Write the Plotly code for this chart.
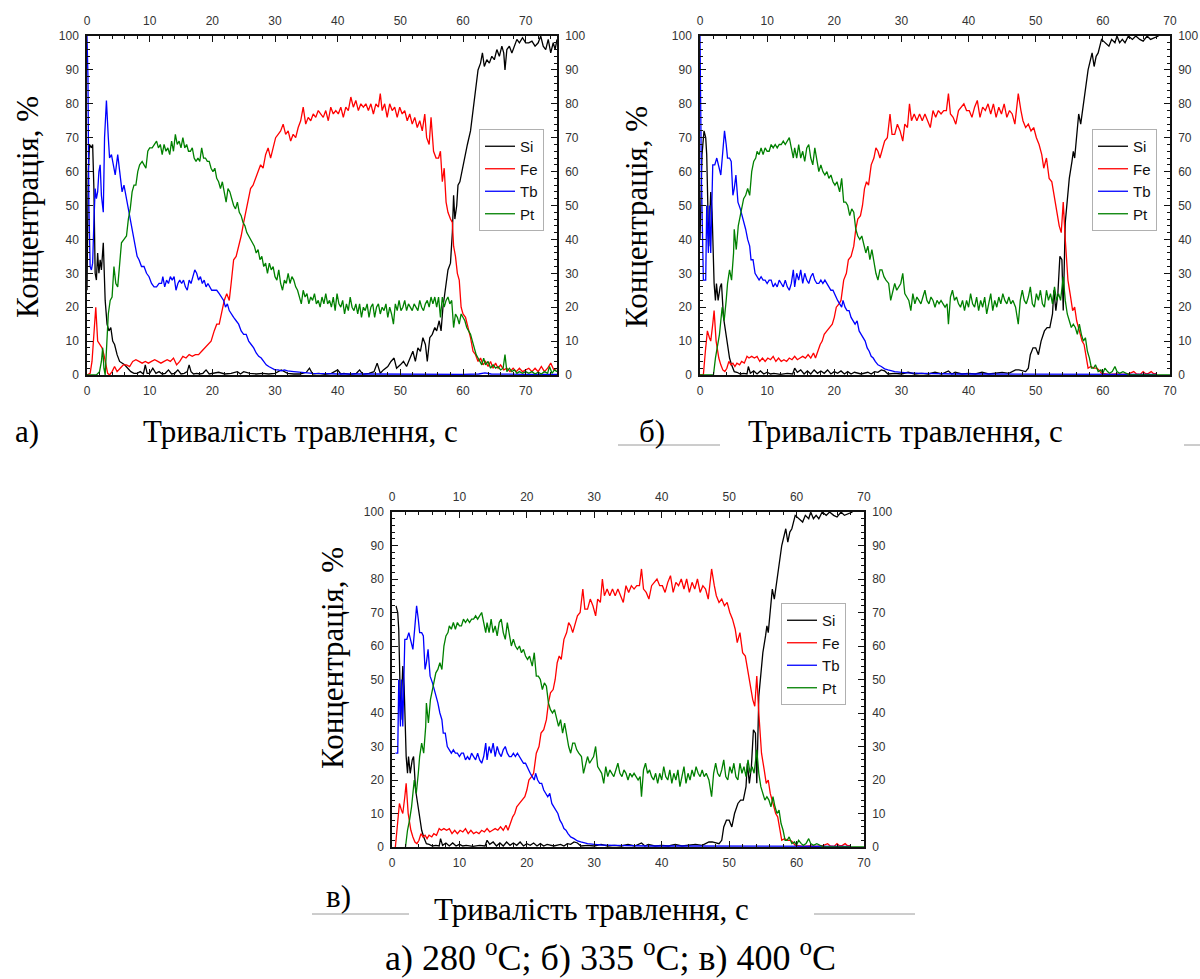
import plotly.graph_objects as go

# ---------------- panel a (280 C): time, s / concentration, % ----------------
a_si_t = [0, 0.2, 0.4, 0.7, 0.9, 1.1, 1.3, 1.5, 1.7, 1.9, 2.1, 2.3, 2.6, 2.9, 3.2, 3.5, 3.8, 4.1, 4.4, 4.8,
          5.2, 5.6, 6.0, 6.5, 7.0, 7.5, 8.0, 8.5, 9.0, 9.3, 9.6, 10.0, 10.5, 11.0, 11.5, 12.0, 12.5, 13.0, 13.5, 14.0,
          14.5, 15.0, 15.5, 16.0, 16.3, 16.6, 17.0, 17.5, 18.0, 18.5, 19.0, 19.5, 20.0, 21.0, 22.0, 23.0, 24.0, 24.5, 25.0, 26.0,
          27.0, 28.0, 29.0, 30.0, 31.0, 32.0, 33.0, 34.0, 35.0, 35.5, 36.0, 37.0, 38.0, 39.0, 40.0, 40.5, 41.0, 42.0, 43.0, 43.5,
          44.0, 45.0, 45.8, 46.3, 46.8, 47.3, 48.0, 48.5, 49.0, 49.4, 50.0, 50.5, 51.0, 51.5, 52.0, 52.4, 52.8, 53.2, 53.6, 54.0,
          54.3, 54.7, 55.1, 55.5, 55.8, 56.2, 56.5, 56.8, 57.2, 57.6, 58.0, 58.3, 58.5, 58.7, 59.0, 59.2, 59.5, 59.8, 60.2, 60.7,
          61.2, 61.6, 62.0, 62.4, 62.8, 63.1, 63.4, 63.8, 64.2, 64.6, 65.0, 65.4, 65.8, 66.2, 66.5, 66.7, 67.0, 67.4, 67.8, 68.2,
          68.6, 69.0, 69.5, 70.0, 70.5, 71.0, 71.5, 72.0, 72.4, 72.8, 73.2, 73.6, 74.0, 74.4, 74.7, 75.0]
a_si = [25, 60, 68, 67, 68, 55, 30, 28, 36, 30, 34, 31, 39, 22, 15, 13, 14, 10, 9, 6,
        4, 3.5, 3, 2, 1, 0.5, 0.5, 1, 0.3, 3, 0.5, 0.5, 2, 0.5, 1, 0.3, 0.5, 1.5, 0.3, 0.5,
        1.5, 0.3, 0.5, 1, 3, 1, 0.3, 0.5, 0.3, 0.5, 1.5, 0.3, 0.5, 0.8, 0.3, 0.5, 1, 0.3, 1, 0.5,
        0.3, 0.5, 0.3, 0.5, 1.5, 0.5, 0.3, 0.3, 0.8, 2, 0.3, 0.5, 0.2, 0.5, 1.5, 0.3, 0.5, 0.2, 0.5, 1.5,
        0.2, 0.5, 1, 3.5, 0.5, 1.5, 2.5, 4, 5, 2, 3, 4, 2.5, 5, 7, 4, 8, 7, 11, 9,
        4, 11, 12, 14, 13, 16, 13, 20, 25, 31, 33, 42, 53, 46, 50, 56, 57, 60, 64, 68,
        72, 78, 84, 90, 92, 95, 91, 93, 92, 94, 93, 96, 94, 97, 95, 90, 96, 97, 95, 97,
        99, 98, 99.5, 98, 98, 98.5, 97, 98, 100, 97, 96, 99, 95, 98, 96, 99]

a_fe_t = [0, 0.5, 0.8, 1.1, 1.4, 1.7, 2.0, 2.4, 2.7, 3.0, 3.3, 3.6, 4.0, 4.4, 4.8, 5.3, 5.8, 6.3, 6.8, 7.3,
          7.8, 8.3, 8.8, 9.3, 9.8, 10.3, 10.8, 11.3, 11.8, 12.3, 12.8, 13.3, 13.8, 14.3, 14.8, 15.3, 15.8, 16.3, 16.8, 17.3,
          17.8, 18.3, 18.8, 19.3, 19.8, 20.3, 20.7, 21.1, 21.5, 21.9, 22.3, 22.7, 23.0, 23.4, 23.8, 24.2, 24.6, 25.0, 25.3, 25.7,
          26.1, 26.5, 26.9, 27.3, 27.7, 28.1, 28.5, 28.9, 29.3, 29.7, 30.1, 30.5, 30.9, 31.3, 31.7, 32.1, 32.5, 32.9, 33.3, 33.7,
          34.1, 34.5, 34.9, 35.3, 35.7, 36.1, 36.5, 36.9, 37.3, 37.7, 38.1, 38.5, 38.9, 39.3, 39.7, 40.1, 40.5, 40.9, 41.3, 41.7,
          42.1, 42.5, 42.9, 43.3, 43.7, 44.1, 44.5, 44.9, 45.3, 45.7, 46.1, 46.5, 46.8, 47.1, 47.5, 47.9, 48.3, 48.7, 49.1, 49.5,
          49.9, 50.3, 50.7, 51.1, 51.5, 51.9, 52.3, 52.7, 53.1, 53.5, 53.9, 54.2, 54.6, 54.9, 55.3, 55.7, 56.1, 56.4, 56.7, 57.0,
          57.3, 57.6, 58.0, 58.3, 58.5, 58.8, 59.1, 59.4, 59.7, 60.0, 60.4, 60.8, 61.2, 61.6, 62.0, 62.4, 62.8, 63.2, 63.6, 64.0,
          64.4, 64.8, 65.2, 65.6, 66.0, 66.5, 67.0, 67.5, 68.0, 68.5, 69.0, 69.5, 70.0, 70.5, 71.0, 71.5, 72.0, 72.5, 73.0, 73.5,
          74.0, 74.5, 75.0]
a_fe = [0, 0.5, 4, 12, 20, 10, 9, 8, 6, 3, 0.5, 0, 1, 2.5, 1, 2, 3, 3, 2.5, 4,
        4.5, 4, 3.5, 4, 3.5, 4, 4.5, 4, 3.5, 4, 4.5, 4, 5, 3, 4, 5.5, 5, 6, 5.5, 6,
        6, 7, 8, 9, 10, 13, 15, 15, 19, 22, 24, 22, 27, 34, 35, 38, 41, 45, 48, 52,
        55, 56, 58, 60, 62, 61, 65, 67, 64, 67, 70, 71, 72, 74, 71, 72, 69, 71, 70, 73,
        75, 79, 74, 76, 75, 77, 76, 78, 77, 76, 78, 75, 79, 77, 78, 77, 79, 76, 79, 78,
        82, 79, 81, 78, 80, 79, 80, 78, 80, 77, 80, 79, 83, 78, 80, 76, 80, 78, 79, 76,
        79, 77, 78, 75, 77, 74, 76, 73, 75, 72, 77, 70, 68, 76, 66, 64, 64, 66, 57, 61,
        51, 48, 46, 45, 38, 35, 30, 28, 20, 18, 17, 14, 11, 7, 6, 4, 5, 3, 4, 2.5,
        4, 2, 3.5, 2, 3, 1.5, 2, 1, 2, 1, 2, 1, 1.5, 2, 1, 2, 1, 2.5, 1, 2,
        3.5, 1.5, 2]

a_tb_t = [0, 0.15, 0.3, 0.5, 0.7, 0.9, 1.1, 1.3, 1.5, 1.7, 1.9, 2.1, 2.3, 2.6, 2.8, 3.1, 3.4, 3.6, 3.9, 4.2,
          4.5, 4.9, 5.3, 5.6, 5.9, 6.2, 6.5, 6.8, 7.1, 7.4, 7.7, 8.0, 8.3, 8.7, 9.1, 9.5, 9.9, 10.3, 10.7, 11.1,
          11.5, 11.9, 12.1, 12.4, 12.7, 13.0, 13.3, 13.6, 13.9, 14.2, 14.5, 14.8, 15.1, 15.4, 15.7, 16.0, 16.3, 16.6, 16.9, 17.2,
          17.5, 17.8, 18.1, 18.4, 18.7, 19.0, 19.3, 19.6, 19.9, 20.3, 20.7, 21.1, 21.5, 21.8, 22.1, 22.4, 22.7, 23.0, 23.4, 23.8,
          24.2, 24.6, 25.0, 25.4, 25.8, 26.2, 26.6, 27.0, 27.4, 27.8, 28.2, 28.6, 29.0, 29.5, 30.0, 30.5, 31.0, 31.5, 32.0, 33.0,
          34.0, 35.0, 36.0, 38.0, 40.0, 45.0, 50.0, 55.0, 60.0, 62.5, 63.5, 64.5, 67.0, 70.0, 75.0]
a_tb = [100, 88, 50, 32, 31, 33, 45, 55, 52, 54, 60, 62, 53, 48, 70, 81, 70, 64, 65, 62,
        59, 65, 59, 54, 56, 53, 50, 46, 43, 40, 38, 35, 34, 32, 32, 30, 29, 27, 26, 26,
        27, 27, 29, 26, 28, 27, 29, 28, 29, 25, 27, 28, 27, 28, 26, 25, 28, 27, 29, 31,
        30, 28, 29, 27, 28, 26, 27, 26, 25, 25, 25, 24, 23, 22, 20, 21, 19, 18, 17, 16,
        15, 13, 12, 12, 10, 9, 8, 6.5, 5.5, 5, 4, 3, 2.5, 2, 1.5, 1.5, 1.2, 1.5, 1.2, 1.0,
        0.8, 0.7, 0.5, 0.4, 0.3, 0.3, 0.2, 0.2, 0.2, 0.3, 0.6, 0.3, 0.2, 0.2, 0.2]

a_pt_t = [0, 1.5, 2.0, 2.3, 2.5, 2.7, 2.9, 3.1, 3.4, 3.7, 4.0, 4.3, 4.6, 4.9, 5.2, 5.5, 5.9, 6.3, 6.6, 6.9,
          7.2, 7.5, 7.8, 8.1, 8.4, 8.8, 9.1, 9.4, 9.7, 10.0, 10.4, 10.8, 11.1, 11.4, 11.7, 12.0, 12.3, 12.6, 12.9, 13.2,
          13.5, 13.8, 14.1, 14.4, 14.7, 15.0, 15.3, 15.6, 15.9, 16.2, 16.5, 16.8, 17.1, 17.4, 17.7, 18.0, 18.3, 18.6, 18.9, 19.2,
          19.5, 19.8, 20.1, 20.4, 20.7, 21.0, 21.3, 21.6, 21.9, 22.2, 22.5, 22.8, 23.1, 23.4, 23.7, 24.0, 24.3, 24.6, 24.9, 25.2,
          25.5, 25.8, 26.1, 26.4, 26.7, 27.0, 27.3, 27.6, 27.9, 28.2, 28.5, 28.8, 29.1, 29.4, 29.7, 30.0, 30.3, 30.6, 30.9, 31.2,
          31.5, 31.8, 32.1, 32.4, 32.7, 33.0, 33.3, 33.6, 33.9, 34.2, 34.5, 34.8, 35.1, 35.4, 35.7, 36.0, 36.3, 36.6, 36.9, 37.2,
          37.5, 37.8, 38.1, 38.4, 38.7, 39.0, 39.3, 39.6, 39.9, 40.2, 40.5, 40.8, 41.1, 41.4, 41.7, 42.0, 42.3, 42.6, 42.9, 43.2,
          43.5, 43.8, 44.1, 44.4, 44.7, 45.0, 45.3, 45.6, 45.9, 46.2, 46.5, 46.8, 47.1, 47.4, 47.7, 48.0, 48.3, 48.6, 48.9, 49.2,
          49.5, 49.8, 50.1, 50.4, 50.7, 51.0, 51.3, 51.6, 51.9, 52.2, 52.5, 52.8, 53.1, 53.4, 53.7, 54.0, 54.3, 54.6, 54.9, 55.2,
          55.5, 55.8, 56.1, 56.4, 56.7, 57.0, 57.3, 57.6, 57.9, 58.2, 58.5, 58.8, 59.1, 59.4, 59.7, 60.0, 60.3, 60.6, 60.9, 61.2,
          61.5, 61.8, 62.1, 62.4, 62.7, 63.0, 63.3, 63.6, 64.0, 64.4, 64.8, 65.2, 65.6, 66.0, 66.4, 66.7, 67.0, 67.4, 67.8, 68.2,
          68.6, 69.0, 69.5, 70.0, 70.5, 71.0, 71.5, 72.0, 72.5, 73.0, 73.5, 73.8, 74.2, 74.6, 75.0]
a_pt = [0, 0, 1, 4, 8, 2, 0, 8, 18, 22, 23, 32, 27, 26, 34, 39, 40, 41, 46, 49,
        54, 56, 56, 60, 62, 63, 62, 61, 66, 67, 67, 68, 69, 67, 68, 65, 68, 66, 67, 65,
        69, 66, 71, 68, 69, 67, 70, 67, 68, 66, 66, 67, 64, 63, 64, 63, 67, 64, 64, 63,
        63, 61, 60, 61, 58, 57, 55, 57, 54, 51, 55, 54, 52, 50, 49, 51, 48, 47, 45, 44,
        42, 41, 40, 39, 38, 36, 37, 34, 35, 32, 33, 30, 33, 31, 32, 29, 28, 31, 27, 25,
        28, 27, 30, 27, 29, 28, 26, 25, 23, 21, 25, 23, 24, 21, 23, 22, 24, 21, 22, 20,
        23, 21, 24, 21, 22, 20, 23, 19, 24, 21, 20, 22, 18, 21, 19, 23, 20, 19, 21, 18,
        21, 17, 20, 19, 21, 17, 20, 21, 17, 20, 21, 18, 20, 19, 21, 17, 20, 18, 15, 21,
        19, 22, 19, 20, 22, 19, 21, 20, 19, 21, 20, 19, 22, 20, 19, 21, 22, 20, 23, 21,
        23, 20, 23, 17, 23, 20, 22, 23, 21, 22, 14, 18, 17, 15, 18, 17, 16, 14, 13, 12,
        10, 8, 6, 5, 4, 3, 5, 3, 4, 2, 3, 2, 2.5, 1.5, 2, 6, 1, 2, 1, 1.5,
        0.5, 1, 0.5, 1, 0.5, 1, 0.3, 0.8, 0.3, 1, 0.5, 2.5, 0.5, 1.5, 1]

# ---------------- panel b (335 C) ----------------
b_si_t = [0, 0.3, 0.6, 0.85, 1.0, 1.3, 1.6, 1.8, 2.1, 2.3, 2.45, 2.7, 3.0, 3.2, 3.5, 3.8, 4.0, 4.4, 4.7, 5.1,
          5.5, 6.0, 6.5, 7.0, 7.2, 7.5, 8.0, 8.5, 9.0, 9.5, 10.0, 10.5, 11.0, 12.0, 13.0, 13.8, 14.1, 14.5, 15.0, 15.5,
          16.0, 16.5, 17.0, 17.5, 18.0, 18.5, 19.0, 19.5, 20.0, 20.5, 21.0, 21.5, 22.0, 22.5, 23.0, 24.0, 25.0, 25.5, 26.0, 26.5,
          27.0, 27.5, 28.0, 29.0, 30.0, 31.0, 32.0, 33.0, 34.0, 35.0, 36.0, 37.0, 37.5, 38.0, 39.0, 40.0, 41.0, 42.0, 43.0, 44.0,
          45.0, 46.0, 46.5, 47.0, 47.5, 48.0, 48.5, 48.9, 49.2, 49.6, 50.0, 50.4, 50.8, 51.3, 51.7, 52.1, 52.5, 52.7, 53.0, 53.3,
          53.6, 53.9, 54.1, 54.4, 55.0, 55.4, 55.6, 55.8, 56.1, 56.4, 56.7, 57.3, 57.8, 58.4, 58.7, 59.0, 59.3, 59.8, 60.3, 60.9,
          61.3, 61.8, 62.1, 62.5, 62.9, 63.3, 63.8, 64.4, 64.9, 65.5, 66.0, 66.6, 67.1, 67.7, 68.3]
b_si = [40, 65, 72, 70, 65, 38, 54, 48, 27, 22, 27, 22, 26, 27, 17, 13, 11, 5, 3, 1,
        0.8, 0.3, 0.5, 0.3, 2.5, 0.5, 1.2, 0.3, 1.2, 0.3, 0.8, 0.3, 0.5, 0.2, 0.5, 0.3, 2, 0.8, 1.5, 0.3,
        1.2, 0.3, 1.5, 0.5, 1.2, 0.5, 1.5, 0.3, 1, 0.5, 1.2, 0.3, 1, 0.3, 0.8, 0.3, 0.8, 0.3, 1, 0.8,
        1.5, 1.2, 0.3, 0.5, 0.3, 0.8, 0.3, 0.5, 0.3, 0.8, 0.3, 1.2, 0.3, 0.8, 0.3, 0.5, 0.3, 0.8, 0.3, 0.5,
        0.8, 0.5, 1, 1.5, 1.5, 1.2, 1.0, 2, 6, 8, 8, 6, 10, 13, 14, 14, 18, 25, 19, 24,
        35, 34, 19, 45, 58, 63, 66, 64, 70, 77, 74, 82, 90, 95, 91, 94, 95, 99, 98, 97,
        99, 98, 100, 98, 99, 98, 100, 99, 100, 99, 98.5, 100, 99, 99.5, 100]

b_fe_t = [0, 0.5, 0.8, 1.1, 1.4, 1.6, 1.9, 2.1, 2.4, 2.8, 3.1, 3.4, 3.7, 4.0, 4.3, 4.6, 4.9, 5.2, 5.5, 5.9,
          6.2, 6.6, 7.0, 7.3, 7.7, 8.1, 8.5, 8.9, 9.3, 9.7, 10.1, 10.5, 10.9, 11.3, 11.7, 12.1, 12.5, 12.9, 13.3, 13.7,
          14.1, 14.5, 14.9, 15.3, 15.7, 16.1, 16.5, 16.9, 17.2, 17.5, 17.9, 18.2, 18.5, 18.9, 19.3, 19.7, 20.0, 20.3, 20.7, 21.0,
          21.4, 21.8, 22.1, 22.5, 22.9, 23.2, 23.5, 23.9, 24.2, 24.5, 24.8, 25.1, 25.5, 25.9, 26.2, 26.5, 26.8, 27.1, 27.5, 27.9,
          28.3, 28.6, 29.0, 29.4, 29.8, 30.2, 30.5, 30.9, 31.2, 31.5, 31.9, 32.3, 32.7, 33.1, 33.5, 33.9, 34.3, 34.7, 35.1, 35.5,
          35.9, 36.3, 36.7, 37.0, 37.3, 37.7, 38.1, 38.5, 38.9, 39.3, 39.7, 40.1, 40.5, 40.9, 41.3, 41.7, 42.1, 42.5, 42.9, 43.3,
          43.7, 44.1, 44.5, 44.9, 45.3, 45.7, 46.1, 46.5, 46.9, 47.4, 47.8, 48.1, 48.5, 48.9, 49.3, 49.7, 50.1, 50.5, 50.9, 51.2,
          51.6, 52.0, 52.4, 52.8, 53.2, 53.5, 53.8, 54.1, 54.4, 54.8, 55.2, 55.5, 55.8, 56.1, 56.5, 56.9, 57.2, 57.5, 57.8, 58.2,
          58.7, 59.1, 59.4, 59.8, 60.3, 61.0, 62.0, 63.0, 64.0, 64.6, 65.0, 65.6, 66.0, 66.4, 66.8, 67.2, 67.6, 68.0]
b_fe = [0, 0, 7, 13, 11, 10, 15, 19, 10, 5, 3, 1.5, 1, 2, 4, 3, 3.5, 2.5, 3.5, 3,
        4, 3.5, 5.5, 5, 5.5, 5, 5.5, 4, 5, 4, 5, 4.5, 5.5, 4, 5, 4, 4.5, 4, 5, 4.5,
        5.5, 4.5, 5, 5.5, 5, 6, 5, 6.5, 5, 7, 9, 10, 12, 13, 14, 15, 17, 20, 21, 22,
        28, 30, 34, 35, 38, 43, 46, 47, 50, 55, 57, 56, 62, 64, 67, 66, 64, 66, 69, 70,
        77, 71, 71, 74, 72, 69, 74, 73, 80, 75, 77, 75, 77, 75, 77, 75, 73, 78, 76, 78,
        77, 78, 78, 83, 77, 76, 74, 78, 79, 80, 78, 78, 76, 79, 81, 76, 79, 78, 80, 77,
        80, 76, 79, 77, 80, 76, 78, 77, 74, 83, 78, 75, 73, 74, 72, 73, 70, 68, 65, 61,
        64, 58, 57, 52, 47, 44, 42, 51, 40, 28, 23, 19, 20, 16, 13, 10, 9, 6, 2, 2.5,
        2, 2, 1.5, 0.5, 0.3, 0.2, 0.3, 0.2, 0.5, 1, 0.3, 0.2, 1, 0.3, 0.5, 1, 0.3, 0.5]

b_tb_t = [0, 0.2, 0.5, 0.85, 1.0, 1.25, 1.4, 1.6, 1.9, 2.2, 2.5, 2.8, 3.1, 3.4, 3.65, 3.9, 4.1, 4.4, 4.65, 4.9,
          5.1, 5.35, 5.65, 6.0, 6.3, 6.6, 6.8, 7.1, 7.4, 7.6, 7.9, 8.2, 8.5, 8.8, 9.1, 9.4, 9.7, 10.0, 10.3, 10.6,
          10.9, 11.2, 11.5, 11.8, 12.1, 12.4, 12.7, 13.0, 13.3, 13.6, 13.9, 14.1, 14.4, 14.7, 15.0, 15.3, 15.6, 15.9, 16.2, 16.5,
          16.8, 17.1, 17.4, 17.7, 18.0, 18.3, 18.6, 18.9, 19.2, 19.5, 19.8, 20.2, 20.5, 20.8, 21.1, 21.3, 21.6, 21.9, 22.2, 22.5,
          22.8, 23.1, 23.4, 23.7, 24.0, 24.3, 24.6, 24.9, 25.2, 25.5, 25.8, 26.1, 26.5, 27.0, 27.5, 28.0, 28.5, 29.0, 30.0, 31.0,
          33.0, 35.0, 38.0, 42.0, 48.0, 55.0, 60.0, 65.0, 68.0]
b_tb = [100, 60, 28, 28, 50, 36, 50, 36, 62, 62, 64, 61, 59, 66, 72, 68, 64, 64, 63, 53,
        55, 59, 51, 49, 47, 45, 43, 40, 38, 34, 34, 30, 29, 28, 29, 28, 28, 27, 28, 28,
        26, 27, 26, 28, 27, 26, 28, 26, 25, 27, 31, 26, 30, 28, 31, 27, 30, 28, 27, 29,
        30, 28, 27, 27, 28, 27, 28, 27, 26, 25, 25, 23, 22, 21, 20, 22, 20, 19, 19, 17,
        16, 15, 16, 13, 12, 11, 10, 8, 7, 5.5, 5, 4, 3, 2.5, 1.8, 1.5, 1.2, 1, 0.8, 0.6,
        0.5, 0.4, 0.3, 0.3, 0.3, 0.2, 0.2, 0.2, 0.2]

b_pt_t = [0, 2.0, 2.3, 2.6, 2.9, 3.3, 3.6, 3.9, 4.1, 4.4, 4.7, 5.0, 5.1, 5.4, 5.7, 6.0, 6.3, 6.5, 6.8, 7.1,
          7.4, 7.7, 8.0, 8.3, 8.5, 8.8, 9.1, 9.4, 9.7, 10.0, 10.3, 10.6, 10.9, 11.2, 11.5, 11.8, 12.1, 12.4, 12.7, 13.0,
          13.3, 13.6, 13.9, 14.1, 14.4, 14.7, 15.0, 15.3, 15.6, 15.9, 16.2, 16.5, 16.8, 17.1, 17.4, 17.7, 18.0, 18.3, 18.6, 18.9,
          19.2, 19.5, 19.8, 20.1, 20.4, 20.8, 21.1, 21.4, 21.7, 22.0, 22.3, 22.6, 22.9, 23.2, 23.5, 23.8, 24.1, 24.4, 24.7, 25.0,
          25.3, 25.6, 25.9, 26.2, 26.5, 26.8, 27.1, 27.4, 27.7, 28.1, 28.4, 28.7, 29.0, 29.3, 29.6, 29.9, 30.2, 30.5, 30.8, 31.1,
          31.4, 31.7, 32.0, 32.3, 32.6, 32.9, 33.2, 33.5, 33.8, 34.1, 34.4, 34.7, 35.0, 35.3, 35.6, 35.9, 36.2, 36.5, 36.8, 37.0,
          37.3, 37.6, 37.9, 38.2, 38.5, 38.8, 39.1, 39.4, 39.7, 40.0, 40.3, 40.6, 40.9, 41.2, 41.5, 41.8, 42.1, 42.4, 42.7, 43.0,
          43.3, 43.6, 43.9, 44.2, 44.5, 44.8, 45.1, 45.4, 45.7, 46.0, 46.3, 46.6, 47.0, 47.4, 47.7, 48.0, 48.3, 48.6, 48.9, 49.2,
          49.5, 49.8, 50.1, 50.4, 50.7, 51.0, 51.3, 51.6, 51.9, 52.2, 52.5, 52.8, 53.1, 53.4, 53.7, 54.1, 54.4, 54.7, 55.0, 55.3,
          55.6, 55.9, 56.2, 56.5, 56.8, 57.1, 57.4, 57.7, 58.0, 58.3, 58.6, 58.9, 59.3, 59.7, 60.0, 60.3, 60.7, 61.0, 61.4, 61.8,
          62.1, 62.5, 63.0, 63.5, 64.0, 70.0]
b_pt = [0, 0, 5, 8, 12, 20, 16, 22, 27, 31, 28, 36, 43, 37, 44, 47, 50, 52, 53, 55,
        53, 60, 63, 64, 66, 65, 67, 65, 67, 66, 66, 68, 67, 68, 67, 68, 68, 69, 68, 69,
        70, 67, 64, 67, 64, 68, 64, 66, 63, 67, 68, 64, 62, 67, 64, 60, 62, 60, 59, 60,
        58, 59, 57, 56, 57, 54, 58, 51, 51, 50, 47, 49, 48, 43, 41, 40, 41, 38, 36, 38,
        34, 37, 33, 30, 28, 31, 31, 29, 28, 27, 22, 25, 27, 25, 26, 27, 30, 24, 23, 22,
        19, 24, 21, 23, 22, 21, 23, 25, 22, 21, 23, 22, 20, 22, 21, 22, 21, 20, 21, 15,
        23, 25, 22, 23, 21, 20, 22, 19, 22, 20, 24, 21, 20, 23, 19, 22, 20, 23, 18, 21,
        24, 19, 22, 20, 23, 21, 24, 22, 21, 23, 21, 22, 20, 15, 22, 25, 22, 21, 23, 26,
        21, 20, 24, 22, 25, 21, 20, 25, 22, 24, 21, 26, 22, 24, 22, 29, 22, 18, 16, 14,
        15, 14, 12, 15, 12, 10, 11, 7, 5, 2, 2, 3, 1, 1.5, 0.5, 2, 1, 0.5, 1, 2.5,
        1, 0.5, 1, 0.5, 0, 0]

# ---------------- panel c (400 C): same profile record, starting at 0.5 s ----------------
c_si_t, c_si = b_si_t[2:], b_si[2:]
c_fe_t, c_fe = b_fe_t[1:], b_fe[1:]
c_tb_t, c_tb = b_tb_t[2:], b_tb[2:]
c_pt_t, c_pt = b_pt_t[1:], b_pt[1:]

elements = ["Si", "Fe", "Tb", "Pt"]
colors = ["#000000", "#ff0000", "#0000ff", "#008000"]

W, H = 1200, 979


def fx(p):
    return p / W


def fy(p):
    return 1 - p / H


# plot-area boxes in pixels: left, right, top, bottom
panels = [
    dict(box=(87, 557, 36, 375), xmax=75,
         series=[(a_si_t, a_si), (a_fe_t, a_fe), (a_tb_t, a_tb), (a_pt_t, a_pt)],
         legend_xy=(479, 129)),
    dict(box=(700, 1170, 36, 375), xmax=70,
         series=[(b_si_t, b_si), (b_fe_t, b_fe), (b_tb_t, b_tb), (b_pt_t, b_pt)],
         legend_xy=(1092, 129)),
    dict(box=(392, 864, 512, 847), xmax=70,
         series=[(c_si_t, c_si), (c_fe_t, c_fe), (c_tb_t, c_tb), (c_pt_t, c_pt)],
         legend_xy=(781, 603)),
]

tick_font = dict(family="Arial, Liberation Sans, sans-serif", size=12, color="#333333")
serif = "Times New Roman, Liberation Serif, serif"

axis_style = dict(
    showline=True, linecolor="#111111", linewidth=1.5,
    ticks="inside", ticklen=6, tickwidth=1.3, tickcolor="#111111",
    minor=dict(ticks="inside", ticklen=3, tickwidth=1, tickcolor="#111111", dtick=2),
    showgrid=False, zeroline=False, tickfont=tick_font, ticklabelstandoff=4,
    fixedrange=True, tick0=0, automargin=False,
)

fig = go.Figure()
layout = {}

for i, p in enumerate(panels):
    l, r, t, b = p["box"]
    xb, xt = 2 * i + 1, 2 * i + 2
    yl, yr = 2 * i + 1, 2 * i + 2
    xb_name = "xaxis" if xb == 1 else f"xaxis{xb}"
    yl_name = "yaxis" if yl == 1 else f"yaxis{yl}"
    xb_ref = "x" if xb == 1 else f"x{xb}"
    yl_ref = "y" if yl == 1 else f"y{yl}"
    legend_name = "legend" if i == 0 else f"legend{i + 1}"

    xrange = [0, p["xmax"]]
    layout[xb_name] = dict(axis_style, domain=[fx(l), fx(r)], range=xrange, dtick=10,
                           anchor=yl_ref, side="bottom")
    layout[f"xaxis{xt}"] = dict(axis_style, range=xrange, dtick=10, overlaying=xb_ref,
                                anchor=yl_ref, side="top")
    layout[yl_name] = dict(axis_style, domain=[fy(b), fy(t)], range=[0, 100], dtick=10,
                           anchor=xb_ref, side="left")
    layout[f"yaxis{yr}"] = dict(axis_style, range=[0, 100], dtick=10, overlaying=yl_ref,
                                anchor=xb_ref, side="right")

    for name, color, (tx, vy) in zip(elements, colors, p["series"]):
        fig.add_trace(go.Scatter(
            x=tx, y=vy, mode="lines", name=name,
            line=dict(color=color, width=1.3),
            xaxis=xb_ref, yaxis=yl_ref, legend=legend_name,
        ))
    # empty trace so the top/right axes are laid out
    fig.add_trace(go.Scatter(x=[None], y=[None], xaxis=f"x{xt}", yaxis=f"y{yr}",
                             showlegend=False, hoverinfo="skip"))

    lx, ly = p["legend_xy"]
    layout[legend_name] = dict(
        x=fx(lx), y=fy(ly), xanchor="left", yanchor="top",
        bgcolor="white", bordercolor="#b0b0b0", borderwidth=1,
        font=dict(family="Arial, Liberation Sans, sans-serif", size=15, color="#111111"),
        itemwidth=30, tracegroupgap=0,
    )

annotations = []
y_title = "Концентрація, %"
x_title = "Тривалість травлення, с"
for (cx, cy) in [(27, 207), (636, 217), (332, 658)]:
    annotations.append(dict(text=y_title, x=fx(cx), y=fy(cy), xref="paper", yref="paper",
                            textangle=-90, showarrow=False, xanchor="center", yanchor="middle",
                            font=dict(family=serif, size=31, color="black")))
for (cx, cy) in [(300, 431), (905, 431), (591, 909)]:
    annotations.append(dict(text=x_title, x=fx(cx), y=fy(cy), xref="paper", yref="paper",
                            showarrow=False, xanchor="center", yanchor="middle",
                            font=dict(family=serif, size=31, color="black")))
for txt, cx, cy in [("а)", 27, 431), ("б)", 652, 431), ("в)", 339, 896)]:
    annotations.append(dict(text=txt, x=fx(cx), y=fy(cy), xref="paper", yref="paper",
                            showarrow=False, xanchor="center", yanchor="middle",
                            font=dict(family=serif, size=31, color="black")))
annotations.append(dict(text="а) 280 <sup>o</sup>C; б) 335 <sup>o</sup>C; в) 400 <sup>o</sup>C",
                        x=fx(610), y=fy(955), xref="paper", yref="paper",
                        showarrow=False, xanchor="center", yanchor="middle",
                        font=dict(family=serif, size=36, color="black")))

shapes = []
for x0, x1, yy in [(618, 720, 445), (1184, 1200, 445), (312, 409, 914), (814, 915, 914)]:
    shapes.append(dict(type="line", xref="paper", yref="paper",
                       x0=fx(x0), x1=fx(x1), y0=fy(yy), y1=fy(yy),
                       line=dict(color="#9a9a9a", width=1)))

fig.update_layout(
    width=W, height=H, margin=dict(l=0, r=0, t=0, b=0),
    paper_bgcolor="white", plot_bgcolor="white",
    annotations=annotations, shapes=shapes, **layout,
)

fig.write_html("out.html")
